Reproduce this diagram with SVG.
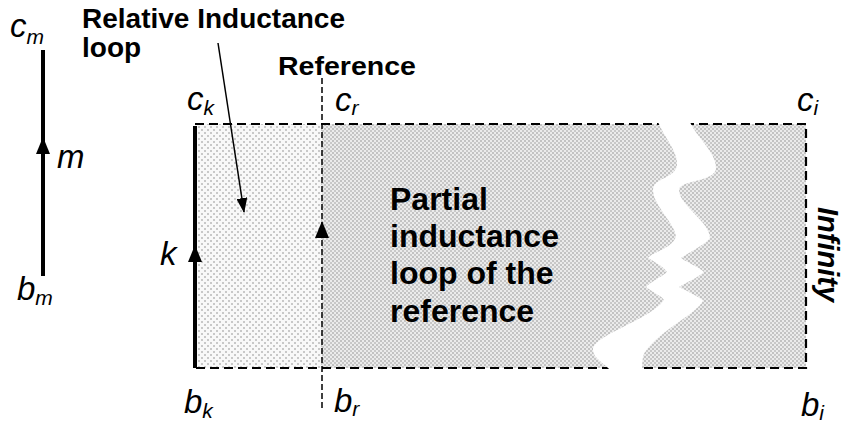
<svg xmlns="http://www.w3.org/2000/svg" width="845" height="425" viewBox="0 0 845 425">
<style>
.lbl{font-family:"Liberation Sans",Arial,sans-serif;font-style:italic;font-size:33px;fill:#000}
.sub{font-size:21px}
.bold{font-family:"Liberation Sans",Arial,sans-serif;font-weight:bold;fill:#000}
.wire{stroke:#000;stroke-width:4;fill:none}
.dash{stroke:#000;stroke-width:2.2;stroke-dasharray:9 5;fill:none}
.refl{stroke:#000;stroke-width:1.5;stroke-dasharray:6 3;fill:none}
</style>
<defs>
<pattern id="pLight" width="6" height="6" patternUnits="userSpaceOnUse">
<rect width="6" height="6" fill="#f8f8f8"/>
<rect x="0" y="0" width="2" height="2" fill="#c8c8c8"/>
<rect x="3" y="3" width="2" height="2" fill="#c8c8c8"/>
</pattern>
<pattern id="pDense" width="4" height="4" patternUnits="userSpaceOnUse">
<rect width="4" height="4" fill="#ebebeb"/>
<rect x="0" y="0" width="2" height="2" fill="#c2c2c2"/>
<rect x="2" y="2" width="2" height="2" fill="#c8c8c8"/>
</pattern>
<marker id="ah" markerWidth="15" markerHeight="11" refX="14" refY="5.5" orient="auto" markerUnits="userSpaceOnUse">
<path d="M0,0 L15,5.5 L0,11 Z" fill="#000"/>
</marker>
</defs>

<g id="loop-relative">
<rect x="195" y="124" width="127" height="244" fill="url(#pLight)"/>
</g>
<g id="loop-partial">
<rect x="322" y="124" width="484" height="244" fill="url(#pDense)"/>
<path class="dash" d="M195,124 H806 V368 H195"/>
<path id="break" fill="#fff" d="M658,122 C666,140 678,152 677,165 C676,178 653,178 653,190 C653,205 676,225 676,237 C670,250 652,252 648,258 C655,262 665,268 667,272 C660,278 650,282 646,287 C652,292 662,296 664,300 C650,320 593,335 593,350 C593,358 605,364 610,370 L642,370 C642,360 643,355 645,352 C660,330 700,312 703,300 C695,295 685,290 679,287 C688,282 700,276 704,272 C697,266 686,262 681,258 C690,252 706,244 710,238 C710,222 679,205 679,190 C679,180 716,182 716,168 C716,152 697,138 690,122 Z"/>
<text class="bold" font-size="32" x="390" y="210">Partial</text>
<text class="bold" font-size="32" x="390" y="247">inductance</text>
<text class="bold" font-size="32" x="390" y="284">loop of the</text>
<text class="bold" font-size="32" x="390" y="322">reference</text>
<text class="bold" font-size="29" font-style="italic" transform="translate(818,207) rotate(90)">Infinity</text>
</g>

<g id="wire-m">
<line class="wire" x1="43" y1="50" x2="43" y2="276"/>
<path d="M43,137 L50,154 L36,154 Z" fill="#000"/>
<text class="lbl" x="10" y="37">c<tspan class="sub" dy="7">m</tspan></text>
<text class="lbl" x="57" y="168">m</text>
<text class="lbl" x="17" y="300">b<tspan class="sub" dy="5">m</tspan></text>
</g>

<g id="wire-k">
<line class="wire" x1="195" y1="126" x2="195" y2="368"/>
<path d="M195,245 L202,262 L188,262 Z" fill="#000"/>
<text class="lbl" x="160" y="265">k</text>
<text class="lbl" x="187" y="110">c<tspan class="sub" dy="5">k</tspan></text>
<text class="lbl" x="184" y="413">b<tspan class="sub" dy="5">k</tspan></text>
</g>

<g id="reference">
<line class="refl" x1="322" y1="78" x2="322" y2="410"/>
<path d="M322,221 L329,238 L315,238 Z" fill="#000"/>
<text class="bold" font-size="25" x="278" y="75" textLength="138" lengthAdjust="spacingAndGlyphs">Reference</text>
<text class="lbl" x="335" y="111">c<tspan class="sub" dy="4">r</tspan></text>
<text class="lbl" x="334" y="412">b<tspan class="sub" dy="4">r</tspan></text>
</g>

<g id="infinity-ends">
<text class="lbl" x="797" y="111">c<tspan class="sub" dy="4">i</tspan></text>
<text class="lbl" x="801" y="416">b<tspan class="sub" dy="4">i</tspan></text>
</g>

<g id="relative-label">
<text class="bold" font-size="28" x="82" y="28">Relative Inductance</text>
<text class="bold" font-size="28" x="82" y="57">loop</text>
</g>

<g id="connectors">
<line x1="218" y1="43" x2="244" y2="212" stroke="#000" stroke-width="1.5" marker-end="url(#ah)"/>
</g>
</svg>
